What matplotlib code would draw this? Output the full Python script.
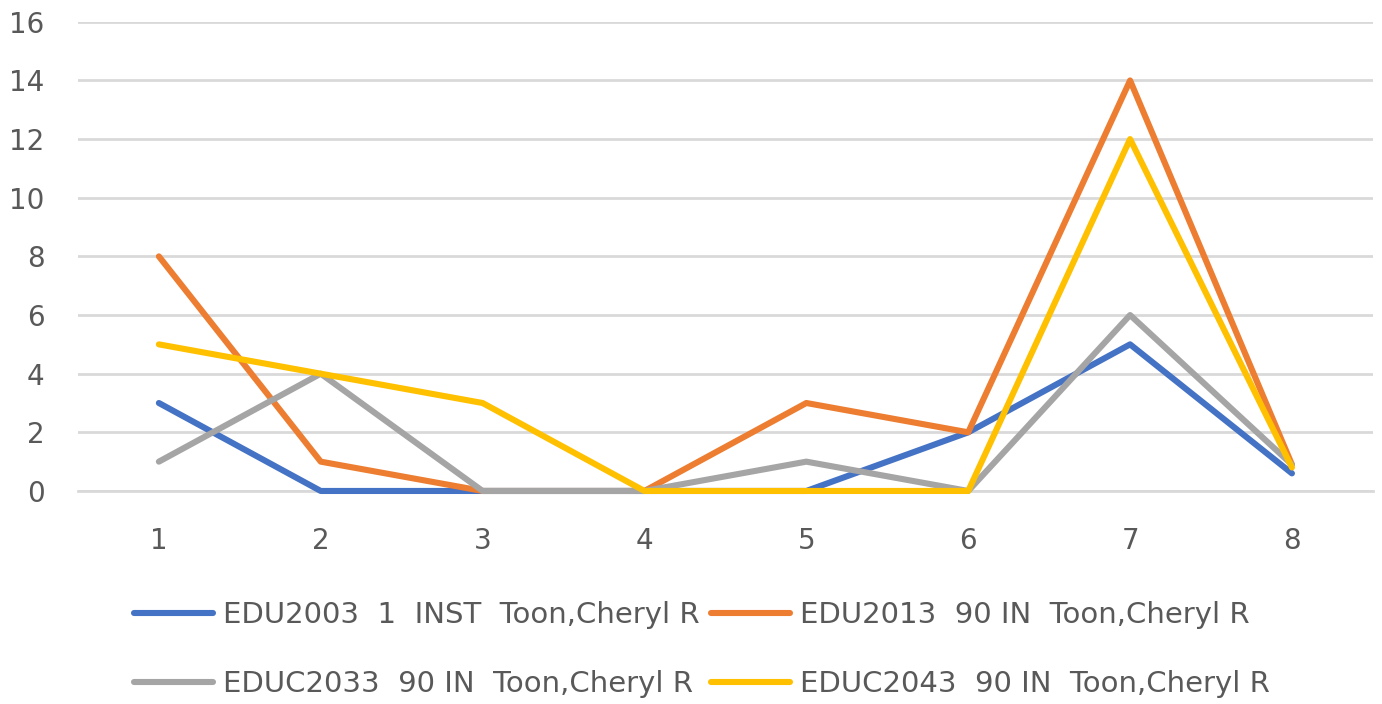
import matplotlib.pyplot as plt

categorias = [1, 2, 3, 4, 5, 6, 7, 8]
edu2003 = [3, 0, 0, 0, 0, 2, 5, 0.6]
edu2013 = [8, 1, 0, 0, 3, 2, 14, 0.9]
educ2033 = [1, 4, 0, 0, 1, 0, 6, 0.9]
educ2043 = [5, 4, 3, 0, 0, 0, 12, 0.8]

etiquetas = ['EDU2003  1  INST  Toon,Cheryl R',
             'EDU2013  90 IN  Toon,Cheryl R',
             'EDUC2033  90 IN  Toon,Cheryl R',
             'EDUC2043  90 IN  Toon,Cheryl R']
colores = ['#4472C4', '#ED7D31', '#A5A5A5', '#FFC000']

fig = plt.figure(figsize=(13.82, 7.04), dpi=100)
ax = fig.add_axes([0.0564, 0.3026, 0.937, 0.6664])

lineas = []
series = [edu2003, edu2013, educ2033, educ2043]
for valores, color, etiqueta in zip(series, colores, etiquetas):
    l, = ax.plot(categorias, valores, color=color, linewidth=4.4, label=etiqueta,
                 solid_capstyle='round', solid_joinstyle='round', clip_on=False,
                 zorder=3)
    lineas.append(l)

ax.set_xlim(0.5, 8.5)
ax.set_ylim(0, 16)
ax.set_yticks(range(0, 17, 2))
ax.set_xticks(categorias)
ax.grid(axis='y', color='#D9D9D9', linewidth=2)
ax.axhline(0, color='#D9D9D9', linewidth=2, clip_on=False, zorder=1)
ax.set_axisbelow(True)
for s in ax.spines.values():
    s.set_visible(False)
ax.tick_params(length=0, labelsize=20, labelcolor='#595959')
ax.tick_params(axis='y', pad=24)
ax.tick_params(axis='x', pad=26)

# orden por filas: azul, naranja / gris, amarillo
orden = [0, 2, 1, 3]
fig.legend([lineas[i] for i in orden], [etiquetas[i] for i in orden],
           loc='center', bbox_to_anchor=(0.508, 0.077), ncol=2, frameon=False,
           prop={'size': 21}, labelcolor='#595959', handlelength=2.7,
           handletextpad=0.35, columnspacing=0.4, labelspacing=1.4)

plt.savefig('out.png', dpi=100)
